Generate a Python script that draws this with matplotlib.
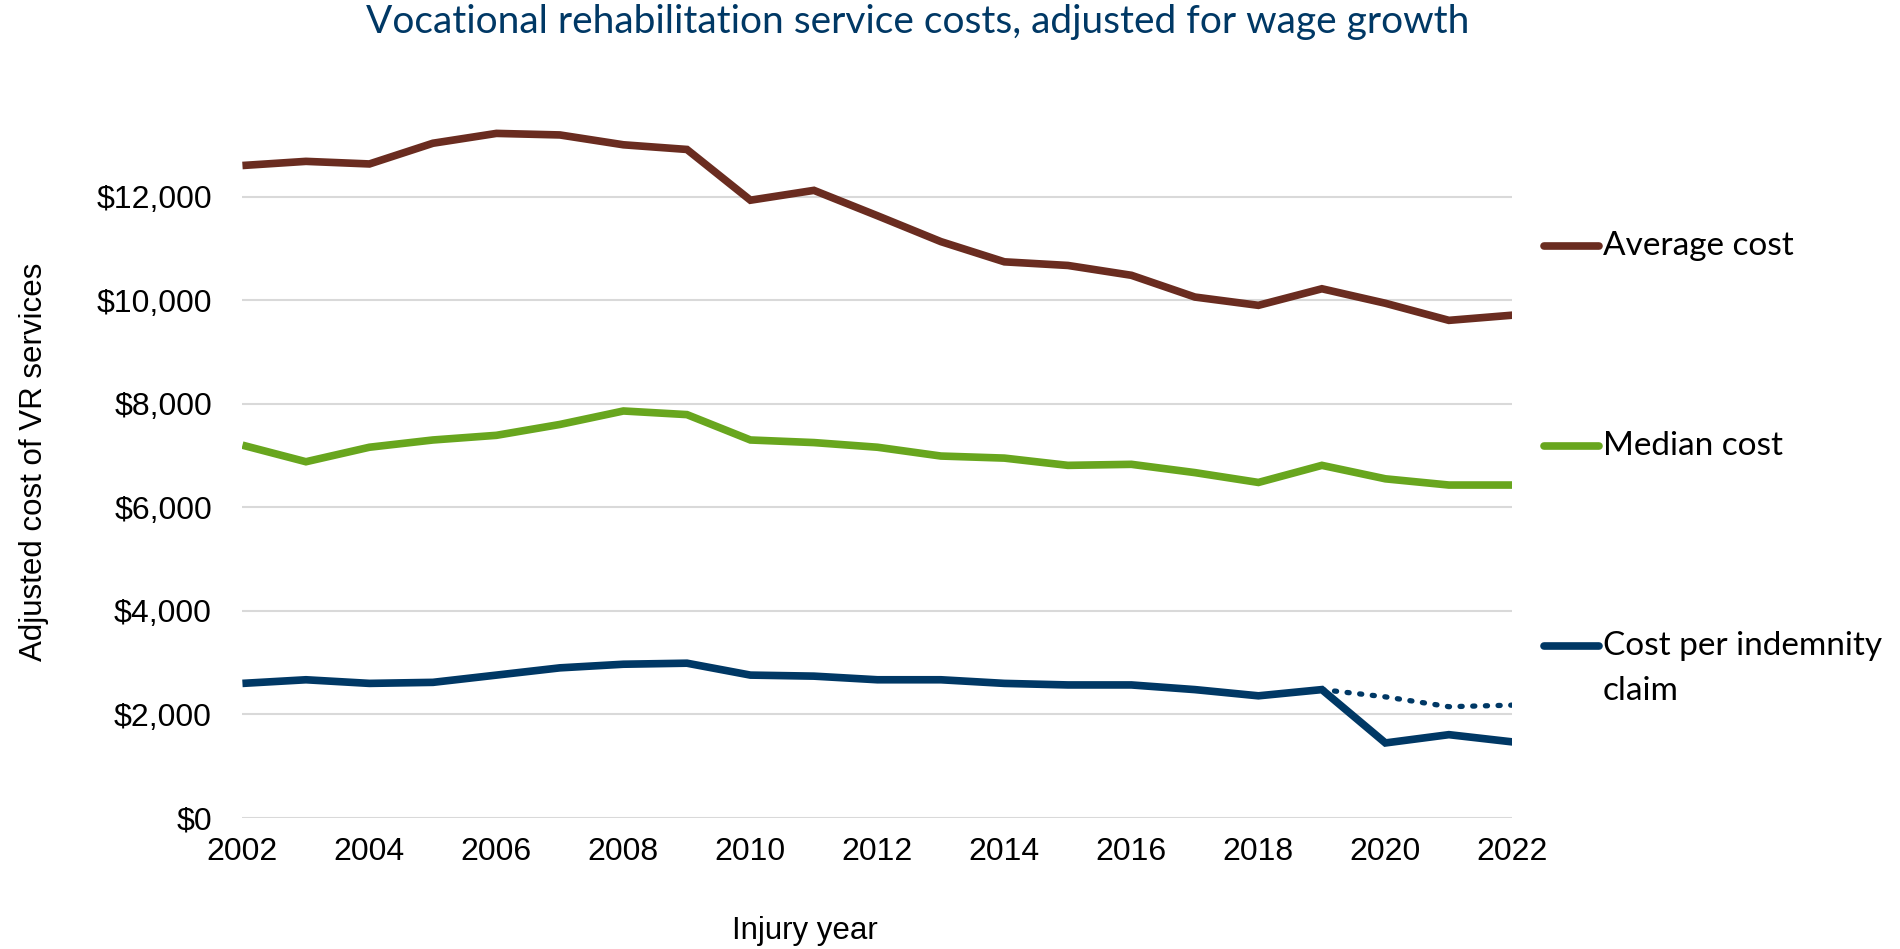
import matplotlib.pyplot as plt
from matplotlib.lines import Line2D
from matplotlib.ticker import FuncFormatter

years = list(range(2002, 2023))
average_cost = [12600, 12680, 12630, 13030, 13220, 13190, 13000, 12910, 11930, 12120, 11630,
                11130, 10740, 10670, 10480, 10060, 9900, 10220, 9940, 9610, 9710]
median_cost = [7200, 6880, 7160, 7300, 7390, 7600, 7860, 7790, 7300, 7250, 7160,
               6990, 6950, 6810, 6830, 6670, 6480, 6810, 6550, 6430, 6430]
cost_per_claim = [2600, 2670, 2600, 2620, 2760, 2900, 2970, 2990, 2760, 2740, 2670,
                  2670, 2600, 2570, 2570, 2480, 2360, 2480, 1450, 1610, 1470]
# dotted alternative for the last years
alt_years = [2019, 2020, 2021, 2022]
alt_cost_per_claim = [2480, 2340, 2150, 2180]

brown = '#6A2C20'
green = '#68A61E'
navy = '#003865'

plt.rcParams['font.family'] = ['Liberation Sans', 'DejaVu Sans']

fig = plt.figure(figsize=(19, 9.49), dpi=100)
ax = fig.add_axes([0.1276, 0.138, 0.796 - 0.1276, 0.902 - 0.138])

ax.plot(years, average_cost, color=brown, lw=5.5, solid_joinstyle='miter', solid_capstyle='butt')
ax.plot(years, median_cost, color=green, lw=5.5, solid_joinstyle='miter', solid_capstyle='butt')
ax.plot(years, cost_per_claim, color=navy, lw=5.5, solid_joinstyle='miter', solid_capstyle='butt')
ax.plot(alt_years, alt_cost_per_claim, color=navy, lw=3.8, linestyle=(0, (0.4, 2.0)),
        dash_capstyle='round')

ax.set_xlim(2002, 2022)
ax.set_ylim(0, 14000)
ax.set_xticks(range(2002, 2023, 2))
ax.set_yticks(range(0, 12001, 2000))
ax.yaxis.set_major_formatter(FuncFormatter(lambda v, p: '${:,.0f}'.format(v)))
ax.grid(axis='y', color='#D9D9D9', lw=1.5)
ax.set_axisbelow(True)
for s in ax.spines.values():
    s.set_visible(False)
ax.tick_params(length=0, labelsize=23, colors='black')
ax.tick_params(axis='x', pad=14)
ax.tick_params(axis='y', pad=22)

fig.text(0.483, 0.977, 'Vocational rehabilitation service costs, adjusted for wage growth',
         ha='center', va='center', fontsize=28, color=navy, family=['Lato', 'DejaVu Sans'])
fig.text(0.018, 0.513, 'Adjusted cost of VR services', rotation=90, ha='center', va='center',
         fontsize=22.5)
fig.text(0.4235, 0.019, 'Injury year', ha='center', va='center', fontsize=22.5)

# legend drawn at the right
legend_items = [('Average cost', brown, 0.741), ('Median cost', green, 0.530),
                ('Cost per indemnity', navy, 0.319)]
for label, col, yy in legend_items:
    fig.add_artist(Line2D([0.8125, 0.8415], [yy, yy], color=col, lw=5.5,
                          solid_capstyle='round', transform=fig.transFigure))
    fig.text(0.8437, yy, label, ha='left', va='center', fontsize=24,
             family=['Lato', 'DejaVu Sans'])
fig.text(0.8437, 0.272, 'claim', ha='left', va='center', fontsize=24,
         family=['Lato', 'DejaVu Sans'])

fig.savefig('out.png', dpi=100)
